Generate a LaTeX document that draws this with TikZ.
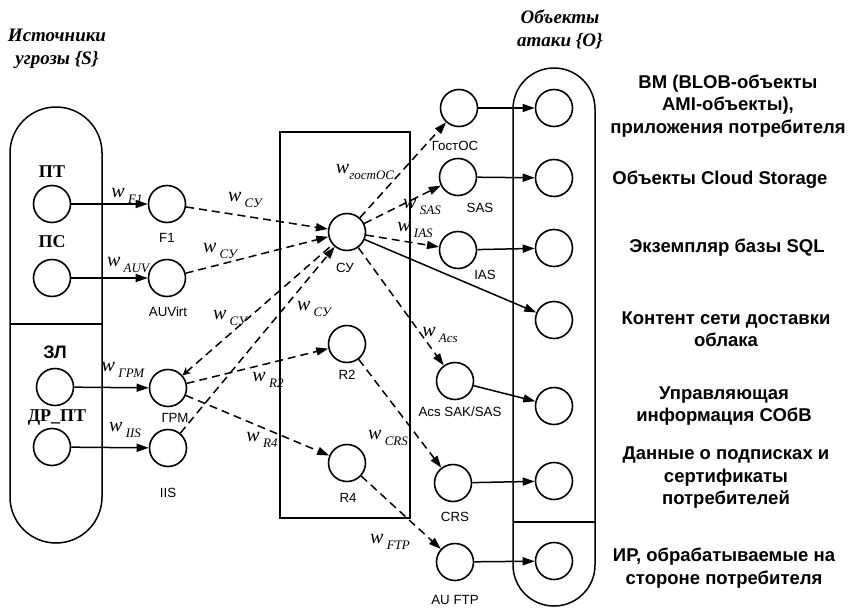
\documentclass[tikz,border=0pt]{standalone}
\usepackage{fontspec}
\setmainfont{Liberation Sans}
\newfontfamily\tnr{Liberation Serif}
\usepackage{tikz}
\usetikzlibrary{arrows.meta}

\newcommand{\wsub}[1]{w\,\raisebox{-0.6ex}{\fontsize{13}{14}\selectfont #1}}

\begin{document}
\begin{tikzpicture}[x=1pt,y=-1pt,
	vert/.style={circle,draw,line width=1.6pt,minimum size=37pt,inner sep=0pt},
	lbl/.style={font=\fontsize{13.3}{14}\selectfont},
	objtxt/.style={font=\bfseries\fontsize{18.5}{22.5}\selectfont,align=center},
	src/.style={font=\tnr\bfseries\fontsize{18}{19}\selectfont},
	ttl/.style={font=\tnr\bfseries\itshape\fontsize{19}{23}\selectfont,align=center},
	wl/.style={font=\tnr\itshape\fontsize{20}{21}\selectfont},
	sol/.style={line width=1.5pt,-{Triangle[length=12pt,width=8pt]}},
	dsh/.style={sol,dash pattern=on 8pt off 5pt}]
\useasboundingbox (0,0) rectangle (851,608);
% titles
\node[ttl] (TS) at (57,49) {Источники\\угрозы \{S\}};
\node[ttl] (TO) at (560,29) {Объекты\\атаки \{O\}};
% containers
\draw[line width=1.5pt,rounded corners=46pt] (10,107) rectangle (102,543);
\draw[line width=1.5pt] (10,324) -- (102,324);
\draw[line width=1.5pt] (280,132) rectangle (410,518);
\draw[line width=1.5pt,rounded corners=41pt] (513,68) rectangle (595,606);
\draw[line width=1.5pt] (513,522) -- (595,522);
% sources
\node[vert] (PT) at (52,204) {};
\node[vert] (PS) at (52,278) {};
\node[vert] (ZL) at (55,387) {};
\node[vert] (DRPT) at (52,447) {};
\node[src] at (52,172) {ПТ};
\node[src] at (52,242) {ПС};
\node[font=\bfseries\fontsize{18}{19}\selectfont] at (55,352) {ЗЛ};
\node[src] at (57,418) {ДР\_ПТ};
% first stage
\node[vert] (F1) at (167,204) {};
\node[vert] (AUV) at (167,278) {};
\node[vert] (GRM) at (168,388) {};
\node[vert] (IIS) at (168,448) {};
\node[lbl] at (167,238) {F1};
\node[lbl] at (168,312) {AUVirt};
\node[lbl] at (175,418) {ГРМ};
\node[lbl] at (168,493) {IIS};
% middle box
\node[vert] (SU) at (347,232) {};
\node[vert] (R2) at (347,344) {};
\node[vert] (R4) at (347,463) {};
\node[lbl] at (345,268) {СУ};
\node[lbl] at (347,375) {R2};
\node[lbl] at (348,498) {R4};
% services
\node[vert] (GOS) at (459,108) {};
\node[vert] (SAS) at (458,177) {};
\node[vert] (IAS) at (458,250) {};
\node[vert] (ACS) at (455,381) {};
\node[vert] (CRS) at (453,483) {};
\node[vert] (FTP) at (455,562) {};
\node[lbl] at (455,146) {ГостОС};
\node[lbl] at (480,208) {SAS};
\node[lbl] at (485,275) {IAS};
\node[lbl] at (460,412) {Acs SAK/SAS};
\node[lbl] at (455,517) {CRS};
\node[lbl] at (455,600) {AU FTP};
% objects
\node[vert] (O1) at (554,108) {};
\node[vert] (O2) at (554,178) {};
\node[vert] (O3) at (554,248) {};
\node[vert] (O4) at (554,320) {};
\node[vert] (O5) at (554,406) {};
\node[vert] (O6) at (554,481) {};
\node[vert] (O7) at (554,561) {};
\node[objtxt] at (728,106) {ВМ (BLOB-объекты\\AMI-объекты),\\приложения потребителя};
\node[objtxt] at (720,180) {Объекты Cloud Storage};
\node[objtxt] at (727,248) {Экземпляр базы SQL};
\node[objtxt] at (726,329) {Контент сети доставки\\облака};
\node[objtxt] at (724,406) {Управляющая\\информация СОбВ};
\node[objtxt] at (726,478) {Данные о подписках и\\сертификаты\\потребителей};
\node[objtxt] at (724,568) {ИР, обрабатываемые на\\стороне потребителя};
% solid links
\draw[sol] (PT) -- (F1);
\draw[sol] (PS) -- (AUV);
\draw[sol] (ZL) -- (GRM);
\draw[sol] (DRPT) -- (IIS);
\draw[sol] (SU) -- (O4);
\draw[sol] (GOS) -- (O1);
\draw[sol] (SAS) -- (O2);
\draw[sol] (IAS) -- (O3);
\draw[sol] (ACS) -- (O5);
\draw[sol] (CRS) -- (O6);
\draw[sol] (FTP) -- (O7);
% dashed links
\draw[dsh] (F1) -- (SU);
\draw[dsh] (AUV) -- (SU);
\draw[dsh,{Stealth[length=8pt,width=8pt,open]}-] (GRM) -- (SU);
\draw[dsh] (IIS) -- (SU);
\draw[dsh] (GRM) -- (R2);
\draw[dsh] (GRM) -- (R4);
\draw[dsh] (SU) -- (GOS);
\draw[dsh] (SU) -- (SAS);
\draw[dsh] (SU) -- (IAS);
\draw[dsh] (SU) -- (ACS);
\draw[dsh] (R2) -- (CRS);
\draw[dsh] (R4) -- (FTP);
% weights
\node[wl] at (127,196) {\wsub{F1}};
\node[wl] at (128,265) {\wsub{AUV}};
\node[wl] at (123,370) {\wsub{ГРМ}};
\node[wl] at (125,430) {\wsub{IIS}};
\node[wl] at (245,200) {\wsub{СУ}};
\node[wl] at (220,251) {\wsub{СУ}};
\node[wl] at (230,318) {\wsub{СУ}};
\node[wl] at (314,309) {\wsub{СУ}};
\node[wl] at (268,380) {\wsub{R2}};
\node[wl] at (262,440) {\wsub{R4}};
\node[wl] at (365,172) {w\raisebox{-0.6ex}{\fontsize{13}{14}\selectfont гостОС}};
\node[wl] at (422,207) {\wsub{SAS}};
\node[wl] at (415,230) {\wsub{IAS}};
\node[wl] at (440,335) {\wsub{Acs}};
\node[wl] at (388,438) {\wsub{CRS}};
\node[wl] at (390,542) {\wsub{FTP}};
\end{tikzpicture}
\end{document}
